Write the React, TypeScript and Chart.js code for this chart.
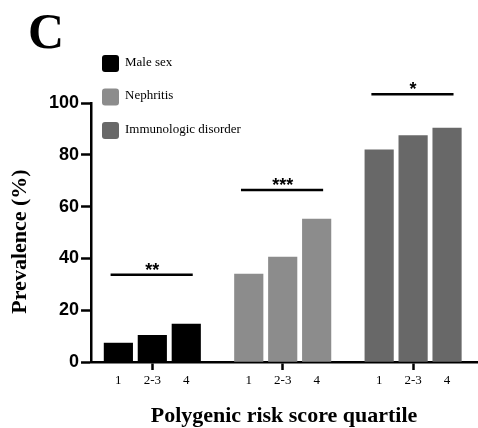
import React, { useEffect, useRef } from "react";
import { Chart, registerables } from "chart.js";

Chart.register(...registerables);

// ---- data ----
const panelLetter = "C";
const groupNames = ["Male sex", "Nephritis", "Immunologic disorder"];
const quartileLabels = ["1", "2-3", "4"];
const maleSex = [7.3, 10.3, 14.6];
const nephritis = [33.9, 40.5, 55.2];
const immunologic = [81.9, 87.4, 90.3];
const sigLabels = ["**", "***", "*"];
const sigLevels = [33.7, 66.4, 103.4];
const yAxisTitle = "Prevalence (%)";
const xAxisTitle = "Polygenic risk score quartile";
const groupColors = ["#000000", "#8c8c8c", "#686868"];

const CATEGORY_PCT = 0.781;
const BAR_PCT = 0.84;
const SERIF = '"Liberation Serif", "Times New Roman", serif';
const SANS = '"Liberation Sans", Arial, sans-serif';

const seriesByGroup = [maleSex, nephritis, immunologic];

const overlayPlugin = {
  id: "overlay",
  afterDraw(chart: any) {
    const { ctx, chartArea } = chart;
    const xs = chart.scales.x;
    const ys = chart.scales.y;
    ctx.save();
    // panel letter
    ctx.fillStyle = "#000";
    ctx.font = `bold 50px ${SERIF}`;
    ctx.textAlign = "left";
    ctx.textBaseline = "alphabetic";
    ctx.fillText(panelLetter, 28, 48);

    // y axis title
    ctx.save();
    ctx.translate(20, (chartArea.top + chartArea.bottom) / 2 + 9);
    ctx.rotate(-Math.PI / 2);
    ctx.font = `bold 22px ${SERIF}`;
    ctx.textAlign = "center";
    ctx.textBaseline = "middle";
    ctx.fillText(yAxisTitle, 0, 0);
    ctx.restore();

    // legend
    groupNames.forEach((name, i) => {
      const top = 55 + i * 33.5;
      ctx.fillStyle = groupColors[i];
      ctx.beginPath();
      (ctx as any).roundRect(102, top, 17, 17, 3);
      ctx.fill();
      ctx.fillStyle = "#000";
      ctx.font = `13px ${SERIF}`;
      ctx.textAlign = "left";
      ctx.textBaseline = "middle";
      ctx.fillText(name, 125, top + 7.5);
    });

    // significance bars
    sigLabels.forEach((lab, g) => {
      const y = ys.getPixelForValue(sigLevels[g]);
      const x1 = xs.getPixelForValue(g - 0.32);
      const x2 = xs.getPixelForValue(g + 0.31);
      ctx.strokeStyle = "#000";
      ctx.lineWidth = 2.5;
      ctx.beginPath();
      ctx.moveTo(x1, y);
      ctx.lineTo(x2, y);
      ctx.stroke();
      ctx.fillStyle = "#000";
      ctx.font = `bold 18px ${SANS}`;
      ctx.textAlign = "center";
      ctx.textBaseline = "alphabetic";
      ctx.fillText(lab, xs.getPixelForValue(g), y + 1);
    });
    ctx.restore();
  },
};

export default function App() {
  const ref = useRef<HTMLCanvasElement | null>(null);
  useEffect(() => {
    if (!ref.current) return;
    const datasets = quartileLabels.map((q, qi) => ({
      label: q,
      data: seriesByGroup.map((arr, gi) => ({ x: gi, y: arr[qi] })),
      backgroundColor: groupColors,
      borderWidth: 0,
      barThickness: "flex",
      categoryPercentage: CATEGORY_PCT,
      barPercentage: BAR_PCT,
    }));
    const chart = new Chart(ref.current, {
      type: "bar",
      data: { datasets },
      plugins: [overlayPlugin],
      options: {
        responsive: false,
        animation: false,
        layout: { padding: { left: 47, right: 1, top: 103, bottom: -2 } },
        plugins: {
          legend: { display: false },
          tooltip: { enabled: false },
          title: { display: false },
        },
        scales: {
          x: {
            type: "linear",
            min: -0.47,
            max: 2.49,
            offset: false,
            afterBuildTicks: (scale: any) => {
              scale.ticks = groupNames.flatMap((_, g) =>
                quartileLabels.map((__, q) => ({ value: g + ((q - 1) * CATEGORY_PCT) / 3 }))
              );
            },
            ticks: {
              autoSkip: false,
              maxRotation: 0,
              minRotation: 0,
              padding: 3,
              color: "#000",
              font: { family: SERIF, size: 13 },
              callback: (_v: any, i: number) => quartileLabels[i % quartileLabels.length],
            },
            grid: {
              offset: false,
              drawOnChartArea: false,
              tickLength: 8,
              tickWidth: 2.5,
              tickColor: (ctx: any) =>
                ctx.tick && Number.isInteger(ctx.tick.value) ? "#000" : "rgba(0,0,0,0)",
            },
            border: { display: true, color: "#000", width: 2.5 },
            title: {
              display: true,
              text: xAxisTitle,
              color: "#000",
              font: { family: SERIF, size: 22, weight: "bold" },
              padding: { top: 12, bottom: 0 },
            },
          },
          y: {
            min: 0,
            max: 100,
            ticks: {
              stepSize: 20,
              padding: 2,
              color: "#000",
              font: { family: SANS, size: 18, weight: "bold" },
            },
            grid: {
              drawOnChartArea: false,
              tickLength: 10,
              tickWidth: 2.5,
              tickColor: "#000",
            },
            border: { display: true, color: "#000", width: 2.5 },
            title: { display: false },
          },
        },
      } as any,
    });
    return () => chart.destroy();
  }, []);
  return (
    <div style={{ position: "absolute", left: 0, top: 0, width: 478, height: 428, background: "#fff" }}>
      <canvas ref={ref} width={478} height={428} style={{ display: "block" }} />
    </div>
  );
}
